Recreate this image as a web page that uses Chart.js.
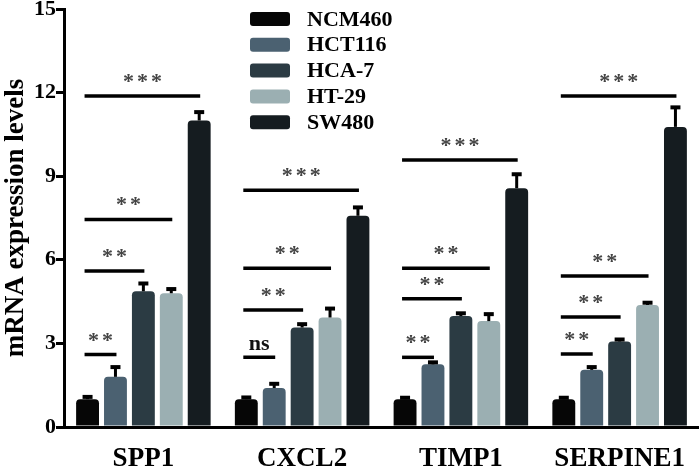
<!DOCTYPE html>
<html>
<head>
<meta charset="utf-8">
<script src="https://cdn.jsdelivr.net/npm/chart.js@4"></script>
<style>
  html, body { margin: 0; padding: 0; background: #fff; }
  #wrap { width: 699px; height: 467px; position: relative; }
  #probe { position: absolute; left: -999px; top: 0; font: bold 22px "Liberation Serif"; }
</style>
</head>
<body>
<div id="probe">SPP1 * ns</div>
<div id="wrap"><canvas id="mrnaChart"></canvas></div>
<script>
// genes on the x axis, cell lines as series
const genes = ['SPP1', 'CXCL2', 'TIMP1', 'SERPINE1'];
const cellLines = ['NCM460', 'HCT116', 'HCA-7', 'HT-29', 'SW480'];
const barColors = ['#060606', '#4b6171', '#2b3b43', '#9bafb2', '#151c20'];

// mean expression per cell line (one value per gene)
const ncm460 = [1.0, 1.0, 1.0, 1.0];
const hct116 = [1.8, 1.4, 2.25, 2.05];
const hca7 = [4.87, 3.57, 3.98, 3.07];
const ht29 = [4.8, 3.93, 3.8, 4.38];
const sw480 = [11.0, 7.58, 8.57, 10.77];

// upper error (SD) per cell line
const ncm460Err = [0.08, 0.06, 0.05, 0.05];
const hct116Err = [0.35, 0.15, 0.07, 0.1];
const hca7Err = [0.28, 0.12, 0.1, 0.07];
const ht29Err = [0.15, 0.32, 0.25, 0.08];
const sw480Err = [0.3, 0.3, 0.5, 0.7];

const yTicks = [0, 3, 6, 9, 12, 15];

// significance brackets: gene index, compared series index, height, label
const sigGene = [0, 0, 0, 0, 1, 1, 1, 1, 2, 2, 2, 2, 3, 3, 3, 3];
const sigTarget = [1, 2, 3, 4, 1, 2, 3, 4, 1, 2, 3, 4, 1, 2, 3, 4];
const sigHeight = [2.6, 5.6, 7.45, 11.88, 2.5, 4.2, 5.7, 8.5, 2.5, 4.6, 5.7, 9.58, 2.62, 3.95, 5.42, 11.88];
const sigLabel = ['**', '**', '**', '***', 'ns', '**', '**', '***', '**', '**', '**', '***', '**', '**', '**', '***'];

const seriesValues = [ncm460, hct116, hca7, ht29, sw480];
const seriesErrors = [ncm460Err, hct116Err, hca7Err, ht29Err, sw480Err];

const SERIF = '"Liberation Serif", "DejaVu Serif", serif';

// error bars (upper only) on top of each bar
const errorBarPlugin = {
  id: 'errorBars',
  afterDatasetsDraw(chart) {
    const ctx = chart.ctx;
    const y = chart.scales.y;
    ctx.save();
    ctx.strokeStyle = '#000';
    chart.data.datasets.forEach((ds, di) => {
      const meta = chart.getDatasetMeta(di);
      meta.data.forEach((bar, i) => {
        const top = y.getPixelForValue(ds.data[i] + seriesErrors[di][i]);
        ctx.lineWidth = 3;
        ctx.beginPath();
        ctx.moveTo(bar.x, bar.y);
        ctx.lineTo(bar.x, top);
        ctx.stroke();
        ctx.lineWidth = 4;
        ctx.beginPath();
        ctx.moveTo(bar.x - 5, top);
        ctx.lineTo(bar.x + 5, top);
        ctx.stroke();
      });
    });
    ctx.restore();
  }
};

// significance lines with asterisks
const sigPlugin = {
  id: 'sigLines',
  afterDatasetsDraw(chart) {
    const ctx = chart.ctx;
    const y = chart.scales.y;
    ctx.save();
    sigGene.forEach((g, k) => {
      const from = chart.getDatasetMeta(0).data[g];
      const to = chart.getDatasetMeta(sigTarget[k]).data[g];
      const py = y.getPixelForValue(sigHeight[k]);
      ctx.strokeStyle = '#000';
      ctx.lineWidth = 3.5;
      ctx.beginPath();
      ctx.moveTo(from.x - 3, py);
      ctx.lineTo(to.x + 1, py);
      ctx.stroke();
      const cx = (from.x - 3 + to.x + 1) / 2;
      const lbl = sigLabel[k];
      ctx.textAlign = 'center';
      ctx.textBaseline = 'alphabetic';
      if (lbl === 'ns') {
        ctx.fillStyle = '#111';
        ctx.font = 'bold 22px ' + SERIF;
        ctx.fillText('ns', cx, py - 7);
      } else {
        ctx.fillStyle = '#444';
        ctx.font = 'bold 22px ' + SERIF;
        const n = lbl.length;
        for (let s = 0; s < n; s++) {
          const sx = cx + (s - (n - 1) / 2) * 14;
          ctx.fillText('*', sx, py - 8);
        }
      }
    });
    ctx.restore();
  }
};

// legend drawn in the upper middle of the plot
const legendPlugin = {
  id: 'boxLegend',
  afterDraw(chart) {
    const ctx = chart.ctx;
    ctx.save();
    chart.data.datasets.forEach((ds, i) => {
      const top = 12 + i * 25.8;
      ctx.fillStyle = ds.backgroundColor;
      ctx.beginPath();
      ctx.roundRect(250, top, 40, 14, 3);
      ctx.fill();
      ctx.fillStyle = '#000';
      ctx.font = 'bold 22px ' + SERIF;
      ctx.textAlign = 'left';
      ctx.textBaseline = 'middle';
      ctx.fillText(ds.label, 307, top + 8);
    });
    ctx.restore();
  }
};

function drawChart() {
  new Chart(document.getElementById('mrnaChart'), {
    type: 'bar',
    data: {
      labels: genes,
      datasets: cellLines.map((name, i) => ({
        label: name,
        data: seriesValues[i],
        backgroundColor: barColors[i],
        borderRadius: { topLeft: 4, topRight: 4 },
        borderSkipped: 'bottom',
        categoryPercentage: 0.879,
        barPercentage: 0.82
      }))
    },
    options: {
      responsive: true,
      maintainAspectRatio: false,
      animation: false,
      devicePixelRatio: 1,
      layout: { padding: { top: 9, right: 0, left: 0, bottom: 0 } },
      plugins: {
        legend: { display: false },
        tooltip: { enabled: false },
        title: { display: false }
      },
      scales: {
        x: {
          grid: { display: false, drawTicks: false },
          border: { display: true, color: '#000', width: 3 },
          ticks: { color: '#000', font: { family: SERIF, size: 27, weight: 'bold' }, padding: 16, maxRotation: 0 },
          afterFit(scale) {
            scale.height = 40;
            scale.paddingLeft = 0;
            scale.paddingRight = 0;
          }
        },
        y: {
          min: 0,
          max: 15,
          afterBuildTicks(scale) { scale.ticks = yTicks.map(v => ({ value: v })); },
          grid: { drawOnChartArea: false, drawTicks: true, tickLength: 8, lineWidth: 3, color: '#000' },
          border: { display: true, color: '#000', width: 3 },
          ticks: { color: '#000', font: { family: SERIF, size: 22, weight: 'bold' }, padding: 0 },
          title: {
            display: true,
            text: 'mRNA expression levels',
            color: '#000',
            font: { family: SERIF, size: 27, weight: 'bold' },
            padding: { top: 0, bottom: 0 }
          },
          afterFit(scale) {
            scale.width = 64;
            scale.paddingTop = 0;
            scale.paddingBottom = 0;
          }
        }
      }
    },
    plugins: [errorBarPlugin, sigPlugin, legendPlugin]
  });
}

if (document.fonts && document.fonts.load) {
  document.fonts.load('bold 22px "Liberation Serif"').then(drawChart, drawChart);
} else {
  drawChart();
}
</script>
</body>
</html>
